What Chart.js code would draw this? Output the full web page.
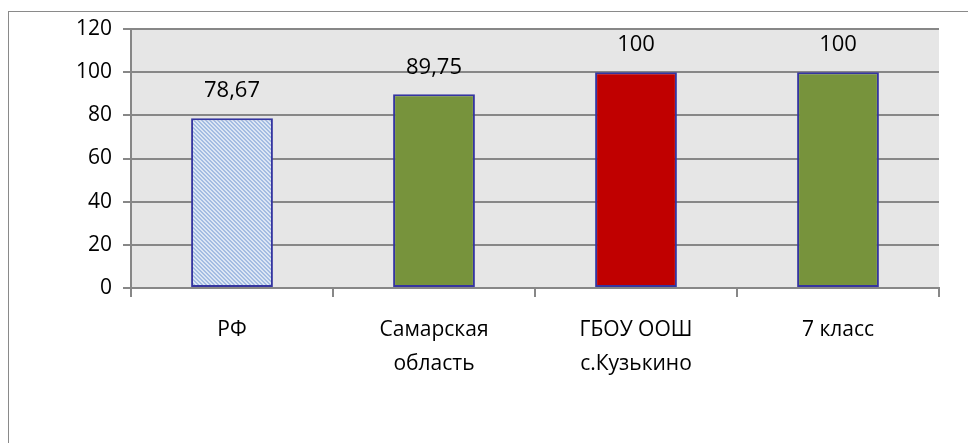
<!DOCTYPE html>
<html lang="ru">
<head>
<meta charset="utf-8">
<title>Результаты</title>
<script src="https://cdn.jsdelivr.net/npm/chart.js@4"></script>
<style>
	html, body {
		margin: 0;
		padding: 0;
		background: #fff;
		overflow: hidden;
	}

	.chart-frame {
		position: absolute;
		left: 8px;
		top: 11px;
		width: 980px;
		height: 440px;
		border-left: 1px solid #8a8a8a;
		border-top: 1px solid #8a8a8a;
	}
</style>
</head>
<body>
<div class="chart-frame">
	<canvas id="chart" width="959" height="431"></canvas>
</div>
<script>
const categories = ['РФ', ['Самарская', 'область'], ['ГБОУ ООШ', 'с.Кузькино'], '7 класс'];
const scores = [78.67, 89.75, 100, 100];
const yTicks = [0, 20, 40, 60, 80, 100, 120];

const gridGray = '#878787';
const fontFamily = "'Open Sans', 'Liberation Sans', sans-serif";

const makeHatch = () => {
	const tile = document.createElement('canvas');
	tile.width = 4;
	tile.height = 4;
	const g = tile.getContext('2d');
	g.fillStyle = '#dce6f4';
	g.fillRect(0, 0, 4, 4);
	g.fillStyle = '#a3bce2';
	for (let i = 0; i < 4; i++) {
		g.fillRect(i, i, 1, 1);
		g.fillRect((i + 1) % 4, i, 1, 1);
	}
	return g.createPattern(tile, 'repeat');
};

const plotBackground = {
	id: 'plotBackground',
	beforeDraw: (chart) => {
		const { ctx, chartArea } = chart;
		ctx.save();
		ctx.fillStyle = '#e6e6e6';
		ctx.fillRect(chartArea.left, chartArea.top, chartArea.right - chartArea.left, chartArea.bottom - chartArea.top);
		ctx.restore();
	},
};

const valueLabels = {
	id: 'valueLabels',
	afterDatasetsDraw: (chart) => {
		const { ctx } = chart;
		const meta = chart.getDatasetMeta(0);
		ctx.save();
		ctx.font = `22px ${fontFamily}`;
		ctx.fillStyle = '#000';
		ctx.textAlign = 'center';
		ctx.textBaseline = 'middle';
		meta.data.forEach((bar, index) => {
			const text = String(scores[index]).replace('.', ',');
			ctx.fillText(text, bar.x, bar.y - 27);
		});
		ctx.restore();
	},
};

const hatch = makeHatch();

new Chart(document.getElementById('chart'), {
	type: 'bar',
	data: {
		labels: categories,
		datasets: [{
			data: scores,
			backgroundColor: [hatch, '#77933c', '#c00000', '#77933c'],
			borderColor: '#3535a0',
			borderWidth: 2,
			borderSkipped: false,
			barPercentage: 0.405,
			categoryPercentage: 1,
		}],
	},
	options: {
		responsive: false,
		animation: false,
		layout: {
			padding: { top: 17, right: 29, left: 0, bottom: 0 },
		},
		plugins: {
			legend: { display: false },
			tooltip: { enabled: false },
		},
		scales: {
			x: {
				afterFit: (scale) => {
					scale.height = 155;
				},
				grid: {
					offset: true,
					drawOnChartArea: false,
					drawTicks: true,
					tickLength: 9,
					color: gridGray,
					lineWidth: 2,
				},
				border: { color: gridGray, width: 2 },
				ticks: {
					color: '#000',
					padding: 16,
					maxRotation: 0,
					font: { family: fontFamily, size: 21, lineHeight: '34px' },
				},
			},
			y: {
				min: 0,
				max: 120,
				afterFit: (scale) => {
					scale.width = 122;
					scale.paddingTop = 0;
					scale.paddingBottom = 0;
				},
				afterBuildTicks: (scale) => {
					scale.ticks = yTicks.map((value) => ({ value }));
				},
				grid: {
					drawTicks: true,
					tickLength: 8,
					color: gridGray,
					lineWidth: 2,
				},
				border: { color: gridGray, width: 2 },
				ticks: {
					color: '#000',
					padding: 11,
					font: { family: fontFamily, size: 21 },
				},
			},
		},
	},
	plugins: [plotBackground, valueLabels],
});
</script>
</body>
</html>
